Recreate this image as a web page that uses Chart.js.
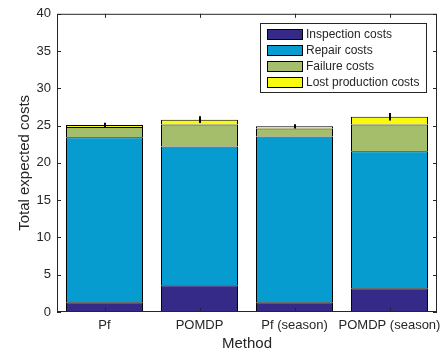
<!DOCTYPE html>
<html>
<head>
<meta charset="utf-8">
<script src="https://cdn.jsdelivr.net/npm/chart.js@4"></script>
<style>
  html, body { margin: 0; padding: 0; background: #fff; }
  #wrap { width: 448px; height: 353px; }
</style>
</head>
<body>
<div id="wrap"><canvas id="costChart" width="448" height="353"></canvas></div>
<script>
// data
const methods = ['Pf', 'POMDP', 'Pf (season)', 'POMDP (season)'];
const inspectionCosts = [1.3, 3.6, 1.3, 3.2];
const repairCosts = [22.15, 18.6, 22.25, 18.35];
const failureCosts = [1.35, 2.95, 1.05, 3.6];
const lostProductionCosts = [0.3, 0.65, 0.3, 1.05];
const errorHalf = [0.3, 0.45, 0.3, 0.5];
const yTicks = [0, 5, 10, 15, 20, 25, 30, 35, 40];

const FONT = '"Liberation Sans", Arial, sans-serif';
const AXIS = '#262626';

function ds(label, data, color) {
    return {
        label: label,
        data: data,
        backgroundColor: color,
        borderColor: '#000',
        borderWidth: 1,
        borderSkipped: 'start', // one line between stacked pieces
        barPercentage: 77 / 95,
        categoryPercentage: 1.0
    };
}

// box + inward ticks like matlab "box on"
const framePlugin = {
    id: 'frame',
    afterDraw(chart) {
        const ctx = chart.ctx;
        const a = chart.chartArea;
        const x = chart.scales.x, y = chart.scales.y;
        ctx.save();
        ctx.strokeStyle = AXIS;
        ctx.lineWidth = 1;
        ctx.strokeRect(a.left + 0.5, a.top + 0.5, a.right - a.left - 1, a.bottom - a.top - 1);
        ctx.beginPath();
        methods.forEach((m, i) => {
            const px = Math.round(x.getPixelForValue(i)) + 0.5;
            ctx.moveTo(px, a.bottom); ctx.lineTo(px, a.bottom - 4);
            ctx.moveTo(px, a.top); ctx.lineTo(px, a.top + 4);
        });
        yTicks.forEach(v => {
            const py = Math.round(y.getPixelForValue(v)) + 0.5;
            ctx.moveTo(a.left, py); ctx.lineTo(a.left + 4, py);
            ctx.moveTo(a.right, py); ctx.lineTo(a.right - 4, py);
        });
        ctx.stroke();
        ctx.restore();
    }
};

const errorBarPlugin = {
    id: 'errorBars',
    afterDatasetsDraw(chart) {
        const ctx = chart.ctx;
        const x = chart.scales.x, y = chart.scales.y;
        ctx.save();
        ctx.strokeStyle = '#000';
        ctx.lineWidth = 2;
        methods.forEach((m, i) => {
            const total = inspectionCosts[i] + repairCosts[i] + failureCosts[i] + lostProductionCosts[i];
            const px = Math.round(x.getPixelForValue(i));
            ctx.beginPath();
            ctx.moveTo(px, y.getPixelForValue(total - errorHalf[i]));
            ctx.lineTo(px, y.getPixelForValue(total + errorHalf[i]));
            ctx.stroke();
        });
        ctx.restore();
    }
};

// legend box in the upper right of the axes
const legendPlugin = {
    id: 'boxLegend',
    afterDraw(chart) {
        const ctx = chart.ctx;
        const bx = 260, by = 23, bw = 166, bh = 69;
        ctx.save();
        ctx.fillStyle = '#fff';
        ctx.fillRect(bx, by, bw, bh);
        ctx.strokeStyle = AXIS;
        ctx.lineWidth = 1;
        ctx.strokeRect(bx + 0.5, by + 0.5, bw, bh);
        ctx.font = '12px ' + FONT;
        ctx.textBaseline = 'middle';
        chart.data.datasets.forEach((d, i) => {
            const cy = by + 11 + i * 16;
            ctx.fillStyle = d.backgroundColor;
            ctx.fillRect(267, cy - 5, 36, 11);
            ctx.strokeStyle = '#000';
            ctx.strokeRect(267.5, cy - 4.5, 35, 10);
            ctx.fillStyle = AXIS;
            ctx.fillText(d.label, 306, cy + 0.5);
        });
        ctx.restore();
    }
};

new Chart(document.getElementById('costChart'), {
    type: 'bar',
    data: {
        labels: methods,
        datasets: [
            ds('Inspection costs', inspectionCosts, '#352A87'),
            ds('Repair costs', repairCosts, '#079CCF'),
            ds('Failure costs', failureCosts, '#A5BE6B'),
            ds('Lost production costs', lostProductionCosts, '#F9FB0E')
        ]
    },
    options: {
        responsive: false,
        animation: false,
        devicePixelRatio: 1,
        layout: { padding: { top: 12, right: 11, left: 0, bottom: 0 } },
        plugins: {
            legend: { display: false },
            tooltip: { enabled: false }
        },
        scales: {
            x: {
                stacked: true,
                grid: { display: false, drawTicks: false },
                border: { display: false },
                ticks: { color: AXIS, font: { family: FONT, size: 13 }, padding: 6, maxRotation: 0, autoSkip: false },
                title: { display: true, text: 'Method', color: AXIS, font: { family: FONT, size: 15 }, padding: { top: 0, bottom: 0 } },
                afterFit(scale) { scale.height = 41; }
            },
            y: {
                stacked: true,
                min: 0,
                max: 40,
                grid: { display: false, drawTicks: false },
                border: { display: false },
                afterBuildTicks(scale) { scale.ticks = yTicks.map(v => ({ value: v })); },
                ticks: { color: AXIS, font: { family: FONT, size: 13 }, padding: 6 },
                title: { display: true, text: 'Total expected costs', color: AXIS, font: { family: FONT, size: 15 }, padding: { top: 16, bottom: 0 } },
                afterFit(scale) { scale.width = 57; }
            }
        }
    },
    plugins: [framePlugin, errorBarPlugin, legendPlugin]
});
</script>
</body>
</html>
